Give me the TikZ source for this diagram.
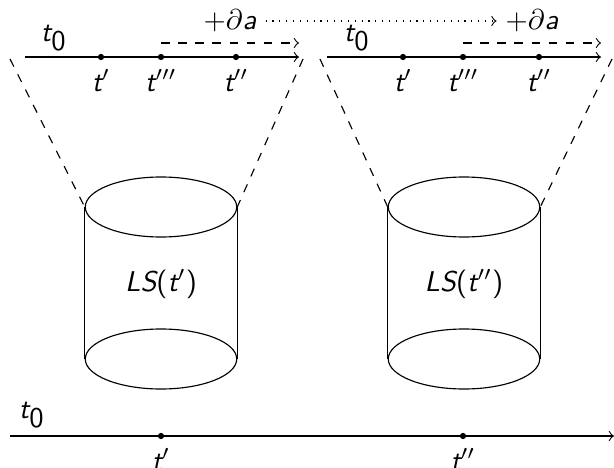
\documentclass[tikz,border=0pt]{standalone}
\usetikzlibrary{positioning,shapes.geometric}
\newcommand{\sub}[1]{\ensuremath{_{\textsf{\upshape #1}}}}
\tikzset{
  every node/.style={font=\sffamily\slshape},
  axis/.style={->,thin},
  shiftarrow/.style={->,thin,dashed},
  carryarrow/.style={->,thin,dotted},
  funnel/.style={thin,dashed},
  dot/.style={circle,fill,inner sep=0pt,minimum size=2.2pt},
  diskcap/.style={draw,thin,ellipse,inner sep=0pt,minimum width=53pt,minimum height=21pt},
  tlabel/.style={inner sep=2pt}
}

\begin{document}
\begin{tikzpicture}[x=0.35pt,y=-0.35pt]
  \useasboundingbox (0,0) rectangle (614,468);
  % upper left time line
  \coordinate (ax1s) at (25,57);
  \coordinate (ax1e) at (299,57);
  \draw[axis] (ax1s) -- (ax1e);
  \node[tlabel] (t01) at (54,38) {t\sub{0}};
  \node[dot] (a1) at (101,57) {};
  \node[dot] (a3) at (161,57) {};
  \node[dot] (a2) at (236,57) {};
  \node[tlabel,below=1pt of a1] {t$'$};
  \node[tlabel,below=1pt of a3] {t$'''$};
  \node[tlabel,below=1pt of a2] {t$''$};
  \coordinate (sh1s) at (161,43);
  \coordinate (sh1e) at (299,43);
  \draw[shiftarrow] (sh1s) -- (sh1e);
  % upper right time line
  \coordinate (ax2s) at (327,57);
  \coordinate (ax2e) at (601,57);
  \draw[axis] (ax2s) -- (ax2e);
  \node[tlabel] (t02) at (357,38) {t\sub{0}};
  \node[dot] (b1) at (403,57) {};
  \node[dot] (b3) at (463,57) {};
  \node[dot] (b2) at (539,57) {};
  \node[tlabel,below=1pt of b1] {t$'$};
  \node[tlabel,below=1pt of b3] {t$'''$};
  \node[tlabel,below=1pt of b2] {t$''$};
  \coordinate (sh2s) at (463,43);
  \coordinate (sh2e) at (601,43);
  \draw[shiftarrow] (sh2s) -- (sh2e);
  % carried shift
  \node[inner sep=3pt] (da1) at (230,21) {$+\partial$a};
  \node[inner sep=3pt] (da2) at (532,21) {$+\partial$a};
  \draw[carryarrow] (da1) -- (da2);
  % cylinders
  \node[diskcap] (top1) at (161,207) {};
  \node[diskcap] (bot1) at (161,359) {};
  \draw[thin] (top1.west) -- (bot1.west);
  \draw[thin] (top1.east) -- (bot1.east);
  \node (ls1) at (161,284) {LS{\upshape(}t$'${\upshape)}};
  \node[diskcap] (top2) at (464,207) {};
  \node[diskcap] (bot2) at (464,359) {};
  \draw[thin] (top2.west) -- (bot2.west);
  \draw[thin] (top2.east) -- (bot2.east);
  \node (ls2) at (464,284) {LS{\upshape(}t$''${\upshape)}};
  % funnels
  \coordinate (f1l) at (10,59);
  \coordinate (f1r) at (303,59);
  \coordinate (f2l) at (320,59);
  \coordinate (f2r) at (612,59);
  \draw[funnel] (f1l) -- (top1.west);
  \draw[funnel] (f1r) -- (top1.east);
  \draw[funnel] (f2l) -- (top2.west);
  \draw[funnel] (f2r) -- (top2.east);
  % lower time line
  \coordinate (ax3s) at (10,436);
  \coordinate (ax3e) at (614,436);
  \draw[axis] (ax3s) -- (ax3e);
  \node[tlabel] (t03) at (32,415) {t\sub{0}};
  \node[dot] (c1) at (161,436) {};
  \node[dot] (c2) at (463,436) {};
  \node[tlabel,below=1pt of c1] {t$'$};
  \node[tlabel,below=1pt of c2] {t$''$};
\end{tikzpicture}
\end{document}
